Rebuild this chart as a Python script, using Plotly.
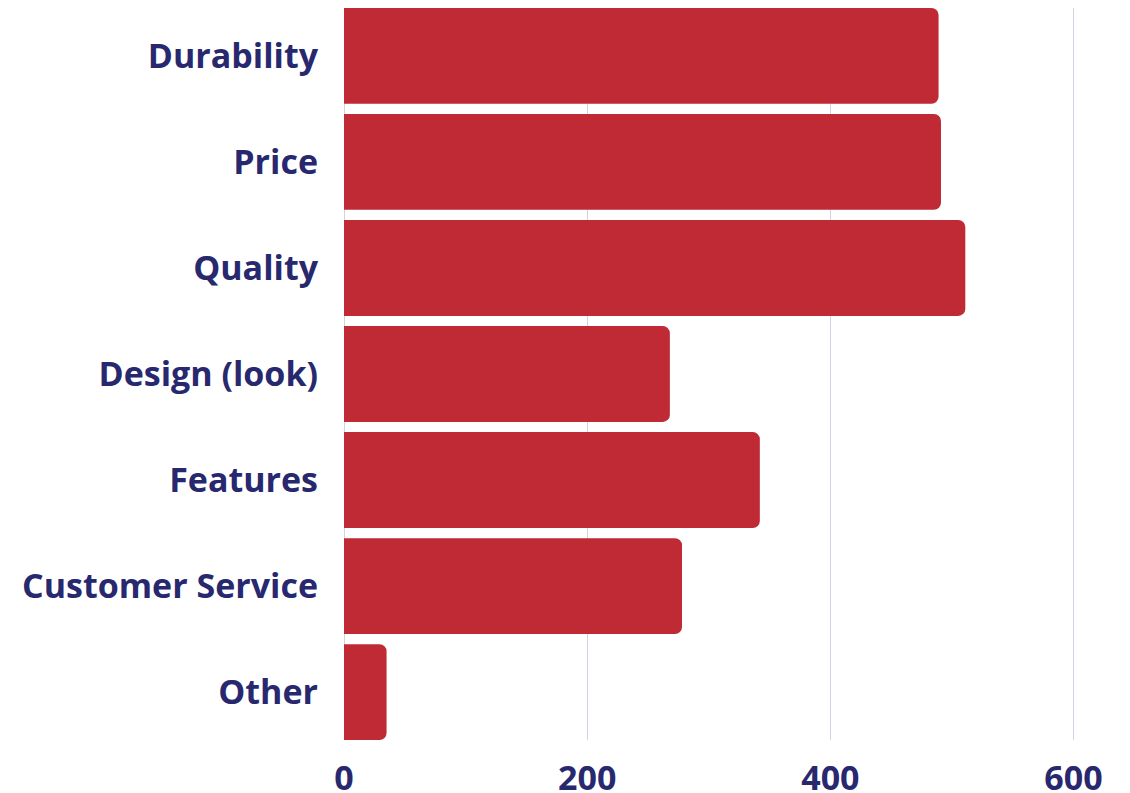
import plotly.graph_objects as go

categories = ["Durability", "Price", "Quality", "Design (look)", "Features", "Customer Service", "Other"]
values = [489, 491, 511, 268, 342, 278, 35]
x_ticks = [0, 200, 400, 600]

navy = "#28286f"
bar_color = "#c02a35"
bargap = 0.096

fig = go.Figure(
    go.Bar(
        y=categories,
        x=values,
        orientation="h",
        marker=dict(color=bar_color, line=dict(width=0)),
        hoverinfo="x+y",
    )
)

fig.update_layout(
    width=1122,
    height=785,
    margin=dict(l=336, r=20, t=0, b=53),
    plot_bgcolor="white",
    paper_bgcolor="white",
    bargap=bargap,
    barcornerradius=7,
    showlegend=False,
    font=dict(family="Open Sans", color=navy),
)

fig.update_xaxes(
    range=[0, 630],
    tickvals=x_ticks,
    ticktext=[str(v) for v in x_ticks],
    showgrid=True,
    gridcolor="#d2d0e2",
    gridwidth=1,
    zeroline=True,
    zerolinecolor="#d2d0e2",
    zerolinewidth=1,
    showline=False,
    ticks="",
    automargin=False,
    ticklabelstandoff=15,
    tickfont=dict(family="Open Sans", size=34, color=navy, weight="bold"),
)

fig.update_yaxes(
    categoryorder="array",
    categoryarray=categories,
    range=[len(categories) - 0.5 - bargap / 2, -0.5 + bargap / 2],
    showgrid=False,
    zeroline=False,
    showline=False,
    ticks="",
    automargin=False,
    ticklabelstandoff=25,
    tickfont=dict(family="Open Sans", size=34, color=navy, weight="bold"),
)

fig.write_html("out.html")
